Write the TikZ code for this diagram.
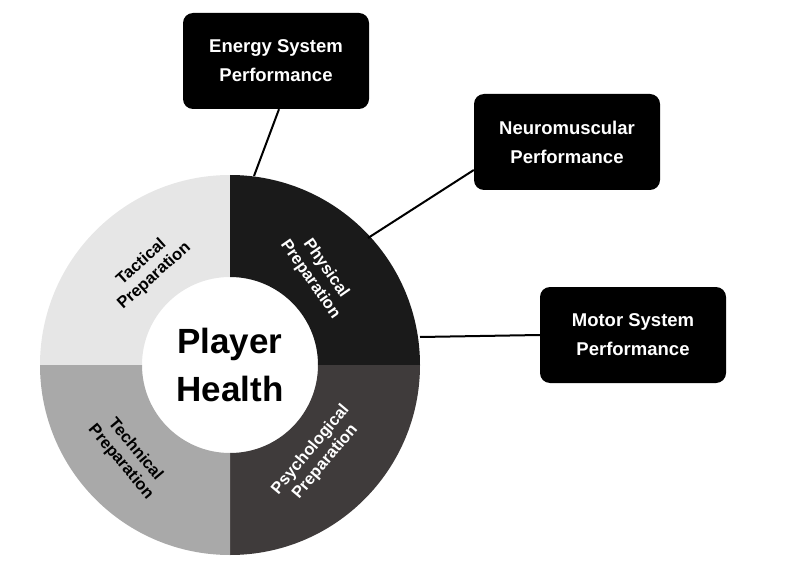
\documentclass[tikz,border=0pt]{standalone}
\usepackage{fontspec}
\setmainfont{Liberation Sans}
\usetikzlibrary{positioning}
\definecolor{tacgrey}{HTML}{E6E6E6}
\definecolor{phyblack}{HTML}{1A1A1A}
\definecolor{psygrey}{HTML}{3F3B3B}
\definecolor{tecgrey}{HTML}{A9A9A9}
\tikzset{
  perfbox/.style={fill=black, rounded corners=10pt, text=white, font=\bfseries\fontsize{18.5}{29}\selectfont,
    align=center, minimum width=186pt, minimum height=96pt, inner sep=0pt},
  quadlabel/.style={font=\bfseries\fontsize{16.5}{19}\selectfont, align=center, inner sep=0pt},
  link/.style={line width=2pt, black}
}
\begin{document}
\begin{tikzpicture}[x=1pt,y=1pt]
		\useasboundingbox (0,0) rectangle (800,574);
		% ring quadrants
		\fill [tacgrey] (230,209) ++(90:190) arc (90:180:190) -- ++(102,0) arc (180:90:88) -- cycle;
		\fill [phyblack] (230,209) ++(0:190) arc (0:90:190) -- ++(0,-102) arc (90:0:88) -- cycle;
		\fill [psygrey] (230,209) ++(-90:190) arc (-90:0:190) -- ++(-102,0) arc (0:-90:88) -- cycle;
		\fill [tecgrey] (230,209) ++(180:190) arc (180:270:190) -- ++(0,102) arc (270:180:88) -- cycle;
		\node (health) at (230,209) [font=\bfseries\fontsize{35}{48}\selectfont, align=center] {Player\\Health};
		\node [quadlabel, rotate=42] (tac) at (148,305) {Tactical\\Preparation};
		\node [quadlabel, rotate=-55, text=white] (phy) at (318,300) {Physical\\Preparation};
		\node [quadlabel, rotate=50, text=white] (psy) at (318,118) {Psychological\\Preparation};
		\node [quadlabel, rotate=-50] (tec) at (128,118) {Technical\\Preparation};
		% performance boxes
		\node [perfbox] (energy) at (276,513) {Energy System\\Performance};
		\node [perfbox] (neuro) at (567,432) {Neuromuscular\\Performance};
		\node [perfbox] (motor) at (633,239) {Motor System\\Performance};
		\coordinate (ringtop) at (254,398);
		\coordinate (ringright) at (368,336);
		\coordinate (ringside) at (420,237);
		\draw [link] (energy.south) ++(3,0) -- (ringtop);
		\draw [link] (neuro.west |- 0,404) -- (ringright);
		\draw [link] (motor.west) -- (ringside);
\end{tikzpicture}
\end{document}
